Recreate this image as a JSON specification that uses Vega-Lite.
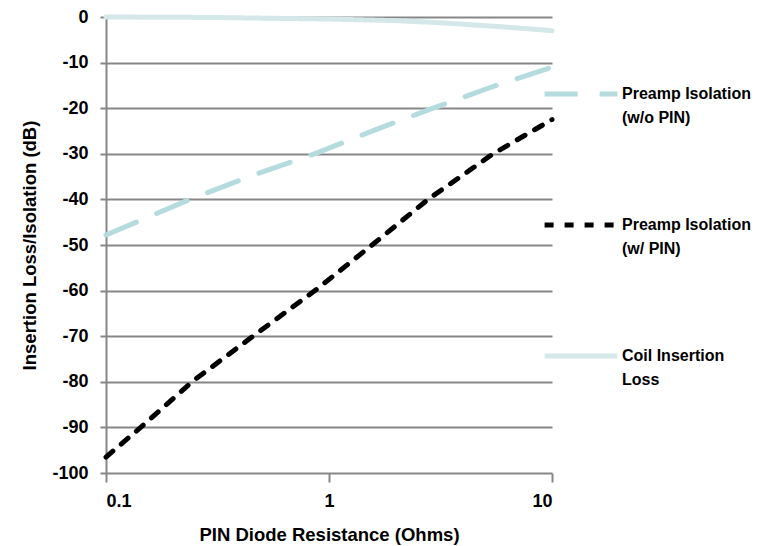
{
  "$schema": "https://vega.github.io/schema/vega-lite/v6.json",
  "width": 446,
  "height": 456,
  "autosize": {"type": "none"},
  "padding": {"left": 106, "top": 17, "right": 206, "bottom": 73},
  "background": "white",
  "config": {
    "font": "Liberation Sans",
    "view": {"stroke": null},
    "axis": {
      "gridColor": "#878787",
      "gridWidth": 2,
      "gridOpacity": 1,
      "domainColor": "#878787",
      "domainWidth": 2,
      "tickColor": "#878787",
      "tickWidth": 2
    },
    "style": {"guide-label": {"lineHeight": 24}}
  },
  "data": {
    "values": [
      {"series": "Preamp Isolation (w/o PIN)", "r": 0.1, "db": -47.8},
      {"series": "Preamp Isolation (w/o PIN)", "r": 0.238, "db": -40},
      {"series": "Preamp Isolation (w/o PIN)", "r": 0.45, "db": -34.8},
      {"series": "Preamp Isolation (w/o PIN)", "r": 0.884, "db": -29.8},
      {"series": "Preamp Isolation (w/o PIN)", "r": 1.6, "db": -24.8},
      {"series": "Preamp Isolation (w/o PIN)", "r": 2.93, "db": -20},
      {"series": "Preamp Isolation (w/o PIN)", "r": 5.4, "db": -15.3},
      {"series": "Preamp Isolation (w/o PIN)", "r": 10, "db": -11},
      {"series": "Preamp Isolation (w/ PIN)", "r": 0.1, "db": -96.5},
      {"series": "Preamp Isolation (w/ PIN)", "r": 0.143, "db": -90},
      {"series": "Preamp Isolation (w/ PIN)", "r": 0.243, "db": -80},
      {"series": "Preamp Isolation (w/ PIN)", "r": 0.456, "db": -70},
      {"series": "Preamp Isolation (w/ PIN)", "r": 0.865, "db": -60},
      {"series": "Preamp Isolation (w/ PIN)", "r": 1.56, "db": -50},
      {"series": "Preamp Isolation (w/ PIN)", "r": 2.78, "db": -40},
      {"series": "Preamp Isolation (w/ PIN)", "r": 5.44, "db": -30},
      {"series": "Preamp Isolation (w/ PIN)", "r": 10, "db": -22.5},
      {"series": "Coil Insertion Loss", "r": 0.1, "db": 0},
      {"series": "Coil Insertion Loss", "r": 0.3, "db": -0.1},
      {"series": "Coil Insertion Loss", "r": 1, "db": -0.45},
      {"series": "Coil Insertion Loss", "r": 2, "db": -0.8},
      {"series": "Coil Insertion Loss", "r": 3, "db": -1.2},
      {"series": "Coil Insertion Loss", "r": 5, "db": -1.9},
      {"series": "Coil Insertion Loss", "r": 7, "db": -2.4},
      {"series": "Coil Insertion Loss", "r": 10, "db": -3}
    ]
  },
  "mark": {"type": "line", "strokeWidth": 5, "strokeCap": "round", "clip": false},
  "encoding": {
    "x": {
      "field": "r",
      "type": "quantitative",
      "scale": {"type": "log", "domain": [0.1, 10], "nice": false},
      "axis": {
        "title": "PIN Diode Resistance (Ohms)",
        "values": [0.1, 1, 10],
        "labelExpr": "datum.value == 0.1 ? '0.1' : datum.value == 1 ? '1' : '10'",
        "grid": false,
        "domain": false,
        "tickSize": 9,
        "labelPadding": 10,
        "titlePadding": 15,
        "labelFont": "Liberation Sans",
        "labelFontSize": 18,
        "labelFontWeight": "bold",
        "labelColor": "#000000",
        "titleFont": "Liberation Sans",
        "titleFontSize": 18.5,
        "titleFontWeight": "bold",
        "titleColor": "#000000"
      }
    },
    "y": {
      "field": "db",
      "type": "quantitative",
      "scale": {"domain": [-100, 0], "nice": false, "zero": false},
      "axis": {
        "title": "Insertion Loss/Isolation (dB)",
        "values": [-100, -90, -80, -70, -60, -50, -40, -30, -20, -10, 0],
        "labelExpr": "'' + datum.value",
        "grid": true,
        "tickSize": 6,
        "labelPadding": 12,
        "titlePadding": 12,
        "labelFont": "Liberation Sans",
        "labelFontSize": 18,
        "labelFontWeight": "bold",
        "labelColor": "#000000",
        "titleFont": "Liberation Sans",
        "titleFontSize": 18.5,
        "titleFontWeight": "bold",
        "titleColor": "#000000"
      }
    },
    "color": {
      "field": "series",
      "type": "nominal",
      "scale": {
        "domain": ["Preamp Isolation (w/o PIN)", "Preamp Isolation (w/ PIN)", "Coil Insertion Loss"],
        "range": ["#b4dbde", "#000000", "#d4e8ea"]
      },
      "legend": {
        "title": null,
        "orient": "none",
        "legendX": 436,
        "legendY": 38,
        "symbolType": "stroke",
        "symbolSize": 5300,
        "symbolStrokeWidth": 5,
        "rowPadding": 60,
        "labelOffset": 2,
        "labelFont": "Liberation Sans",
        "labelFontSize": 16,
        "labelFontWeight": "bold",
        "labelColor": "#000000",
        "labelLimit": 0,
        "labelExpr": "datum.label == 'Coil Insertion Loss' ? ['Coil Insertion', 'Loss'] : datum.label == 'Preamp Isolation (w/ PIN)' ? ['Preamp Isolation', '(w/ PIN)'] : ['Preamp Isolation', '(w/o PIN)']"
      }
    },
    "strokeDash": {
      "field": "series",
      "type": "nominal",
      "scale": {
        "domain": ["Preamp Isolation (w/o PIN)", "Preamp Isolation (w/ PIN)", "Coil Insertion Loss"],
        "range": [[33, 22], [9, 11], [1, 0]]
      },
      "legend": {
        "title": null,
        "orient": "none",
        "legendX": 436,
        "legendY": 38,
        "symbolType": "stroke",
        "symbolSize": 5300,
        "symbolStrokeWidth": 5,
        "rowPadding": 60,
        "labelOffset": 2,
        "labelFont": "Liberation Sans",
        "labelFontSize": 16,
        "labelFontWeight": "bold",
        "labelColor": "#000000",
        "labelLimit": 0,
        "labelExpr": "datum.label == 'Coil Insertion Loss' ? ['Coil Insertion', 'Loss'] : datum.label == 'Preamp Isolation (w/ PIN)' ? ['Preamp Isolation', '(w/ PIN)'] : ['Preamp Isolation', '(w/o PIN)']"
      }
    }
  }
}
